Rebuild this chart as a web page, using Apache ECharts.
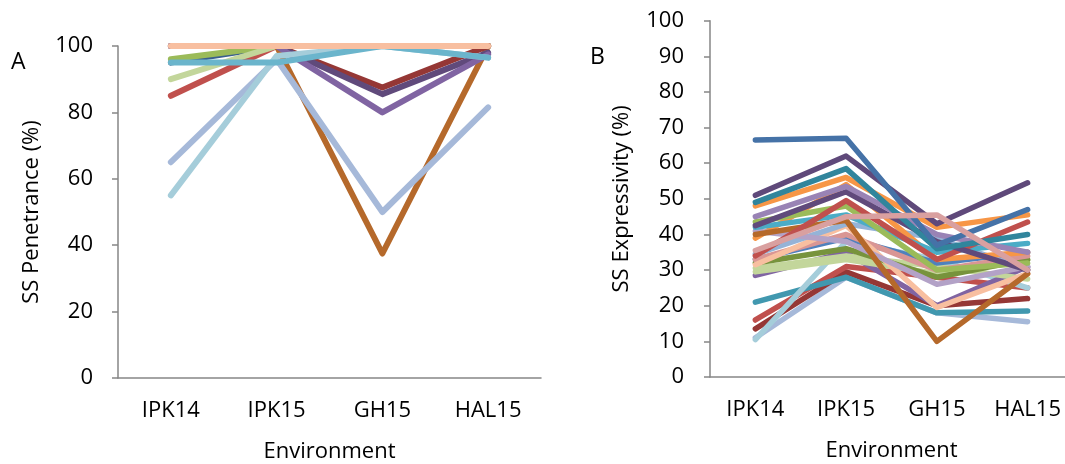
<!DOCTYPE html>
<html>
<head>
<meta charset="utf-8">
<script src="https://cdn.jsdelivr.net/npm/echarts@6/dist/echarts.min.js"></script>
<style>
html,body{margin:0;padding:0;background:#fff;}
#c{width:1065px;height:464px;}
</style>
</head>
<body>
<div id="c"></div>
<script>
// ---- data ----
const categories = ['IPK14', 'IPK15', 'GH15', 'HAL15'];
const penTicks = [0, 20, 40, 60, 80, 100];
const expTicks = [0, 10, 20, 30, 40, 50, 60, 70, 80, 90, 100];

// Panel A: SS Penetrance (%)
const penDarkBlue  = [95, 100, 100, 100];
const penRed       = [85, 100, 100, 100];
const penGreen     = [96, 100, 100, 100];
const penLightGreen= [90, 100, 100, 100];
const penBrown     = [100, 100, 37.5, 100];
const penDarkRed   = [100, 100, 87.5, 100];
const penDarkPurple= [100, 100, 85.5, 98];
const penPurple    = [100, 100, 80, 97.5];
const penLavender  = [65, 96, 50, 81.5];
const penLightCyan = [55, 97, 100, 96.5];
const penCyan      = [95, 95, 100, 96.5];
const penPeach     = [100, 100, 100, 100];

// Panel B: SS Expressivity (%)
const expBlue       = [66.5, 67, 37, 47];
const expDarkPurple = [51, 62, 43, 54.5];
const expTeal       = [49, 58.5, 36, 40];
const expOrange     = [48, 56, 42, 45.5];
const expLavender   = [45, 53.5, 40, 35];
const expPurple2    = [42.5, 52, 38, 30];
const expRed        = [34, 49.5, 33, 43.5];
const expGreen      = [43.5, 48, 30, 32];
const expBrown      = [40, 44, 10, 29];
const expCyan       = [42, 45.5, 35, 37.5];
const expLilac      = [41, 38, 26, 31];
const expOrange2    = [39, 54, 33, 35];
const expPink       = [35.5, 45, 45.5, 30];
const expCornflower = [34.5, 43, 39, 30];
const expRose       = [33, 40, 30, 34];
const expBlue2      = [33, 39, 32, 35];
const expGreen2     = [32, 36, 28, 33];
const expLightGreen = [30.5, 34, 31, 27.5];
const expLightGreen2= [29.5, 33, 29, 33];
const expPurple     = [28.5, 35, 20, 31];
const expSalmon     = [31.5, 42.5, 19.5, 29];
const expTeal2      = [21, 28, 18, 18.5];
const expRed2       = [16, 31, 28, 25];
const expDarkRed    = [13.5, 29.5, 20, 22];
const expLightCyan  = [10.5, 38, 33, 25];
const expLightBlue  = [11, 28, 18, 15.5];

const penSeries = [
  [penDarkBlue, '#3A5F8E'],
  [penRed, '#C0504D'],
  [penGreen, '#9BBB59'],
  [penLightGreen, '#C3D69B'],
  [penBrown, '#B5692B'],
  [penDarkRed, '#953735'],
  [penDarkPurple, '#604A7B'],
  [penPurple, '#8064A2'],
  [penLavender, '#A6B9D9'],
  [penLightCyan, '#A5CDDA'],
  [penCyan, '#6BB5CC'],
  [penPeach, '#F8BFA0']
];
const expSeries = [
  [expLightBlue, '#A6B9D9'],
  [expDarkRed, '#953735'],
  [expRed2, '#C0504D'],
  [expTeal2, '#4198AF'],
  [expLightCyan, '#A5CDDA'],
  [expPurple, '#8064A2'],
  [expLightGreen2, '#C3D69B'],
  [expLightGreen, '#C3D69B'],
  [expGreen2, '#77933C'],
  [expBlue2, '#4F81BD'],
  [expRose, '#D99694'],
  [expSalmon, '#F8BFA0'],
  [expCornflower, '#95B3D7'],
  [expOrange2, '#F79646'],
  [expLilac, '#B3A2C7'],
  [expBrown, '#B5692B'],
  [expCyan, '#4BACC6'],
  [expGreen, '#9BBB59'],
  [expRed, '#C0504D'],
  [expPurple2, '#604A7B'],
  [expLavender, '#9983B5'],
  [expOrange, '#F79646'],
  [expTeal, '#31859C'],
  [expDarkPurple, '#5F497A'],
  [expBlue, '#4572A7'],
  [expPink, '#D9A0A0']
];

const FONT = 'Open Sans';
const FS = 22;
const axisGrey = '#868686';

function xAxis(gridIndex) {
  return {
    type: 'category', gridIndex, data: categories, boundaryGap: true,
    name: 'Environment', nameLocation: 'middle', nameGap: 63,
    nameTextStyle: {fontFamily: FONT, fontSize: FS, color: '#000'},
    axisLine: {lineStyle: {color: axisGrey, width: 1.5}},
    axisTick: {alignWithLabel: true, length: 6, lineStyle: {color: axisGrey, width: 1.5}},
    axisLabel: {fontFamily: FONT, fontSize: FS, color: '#000', margin: 22},
    splitLine: {show: false}
  };
}
function yAxis(gridIndex, name, interval, nameGap, margin) {
  return {
    type: 'value', gridIndex, min: 0, max: 100, interval,
    name, nameLocation: 'middle', nameGap, nameRotate: 90,
    nameTextStyle: {fontFamily: FONT, fontSize: FS, color: '#000'},
    axisLine: {show: true, lineStyle: {color: axisGrey, width: 1.5}},
    axisTick: {show: true, length: 6, lineStyle: {color: axisGrey, width: 1.5}},
    axisLabel: {fontFamily: FONT, fontSize: FS, color: '#000', margin},
    splitLine: {show: false}
  };
}
function mk(arr, idx, width) {
  return arr.map(([d, c]) => ({
    type: 'line', xAxisIndex: idx, yAxisIndex: idx, data: d,
    symbol: 'none', silent: true, animation: false,
    lineStyle: {color: c, width, cap: 'round', join: 'round'}
  }));
}

const chart = echarts.init(document.getElementById('c'), null, {renderer: 'canvas'});
chart.setOption({
  animation: false,
  backgroundColor: '#fff',
  grid: [
    {left: 118, top: 46, right: 524, bottom: 86, outerBoundsMode: 'none', containLabel: false},
    {left: 710, top: 20.7, right: -8, bottom: 87, outerBoundsMode: 'none', containLabel: false}
  ],
  xAxis: [xAxis(0), xAxis(1)],
  yAxis: [
    yAxis(0, 'SS Penetrance (%)', 20, 75, 25),
    yAxis(1, 'SS Expressivity (%)', 10, 77, 26)
  ],
  graphic: [
    {type: 'text', left: 11, top: 51, style: {text: 'A', font: '23px "Open Sans"', fill: '#000'}},
    {type: 'text', left: 590, top: 46, style: {text: 'B', font: '23px "Open Sans"', fill: '#000'}}
  ],
  series: mk(penSeries, 0, 6).concat(mk(expSeries, 1, 5.5))
});
</script>
</body>
</html>
